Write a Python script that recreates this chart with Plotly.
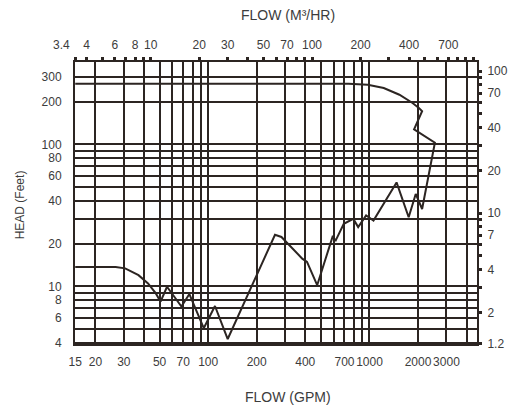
import math
import plotly.graph_objects as go

# ---- data (flow in GPM, head in feet) ----
flow_gpm = [15, 26.7, 30.6, 37.0, 42.4, 47.4, 50.7, 55.6, 68.3, 76.5, 93.9, 110.2, 132.2,
            259.6, 284.6, 383, 410, 474, 590, 618, 693, 794, 851, 953, 1059, 1472, 1750,
            1935, 2120, 2544, 1890, 2120, 2024, 1849, 1533, 1226, 976, 742, 15]
head_ft = [13.7, 13.7, 13.4, 12.0, 10.5, 8.93, 7.81, 9.95, 7.21, 8.84, 5.08, 7.28, 4.26,
           23.1, 22.3, 15.7, 14.9, 10.2, 22.3, 21.1, 27.6, 29.9, 26.2, 31.6, 29.1, 54.0, 30.7,
           44.8, 35.1, 103, 127.6, 171.3, 181, 196, 224, 250, 263, 268, 268]

# ---- axis tick values ----
gpm_grid = [15, 20, 30, 40, 50, 60, 70, 80, 90, 100, 200, 300, 400, 500, 600, 700, 800, 900,
            1000, 2000, 3000, 4000]
gpm_labels = [15, 20, 30, 50, 70, 100, 200, 400, 700, 1000, 2000, 3000]
ft_grid = [4, 5, 6, 7, 8, 9, 10, 20, 30, 40, 50, 60, 70, 80, 90, 100, 200, 300]
ft_labels = [4, 6, 8, 10, 20, 40, 60, 80, 100, 200, 300]
m3h_ticks = [3.4, 4, 5, 6, 7, 8, 9, 10, 20, 30, 40, 50, 60, 70, 80, 90, 100, 200, 300, 400,
             500, 600, 700, 800, 900, 1000]
m3h_labels = [4, 6, 8, 10, 20, 30, 50, 70, 100, 200, 400, 700]
m3h_first_label = 3.4
m_ticks = [1.2, 2, 3, 4, 5, 6, 7, 8, 9, 10, 20, 30, 40, 50, 60, 70, 80, 90, 100]
m_labels = [1.2, 2, 4, 7, 10, 20, 40, 70, 100]

GPM_PER_M3H = 4.403
FT_PER_M = 3.281
X_MIN, X_MAX = 14.95, 4640
Y_MIN, Y_MAX = 3.93, 381

INK = "#2c2522"
TXT = "#3c3c3c"
FONT = "Liberation Sans, Arial, sans-serif"


def texts(vals, labels):
    return [("%g" % v) if v in labels else "" for v in vals]


fig = go.Figure()
fig.add_trace(go.Scatter(x=flow_gpm, y=head_ft, mode="lines",
                         line=dict(color=INK, width=2), xaxis="x", yaxis="y",
                         hoverinfo="skip", showlegend=False))
fig.add_trace(go.Scatter(x=[v / GPM_PER_M3H for v in flow_gpm],
                         y=[h / FT_PER_M for h in head_ft], mode="lines",
                         line=dict(width=0), opacity=0, xaxis="x2", yaxis="y2",
                         hoverinfo="skip", showlegend=False))

tickfont = dict(family=FONT, size=12, color=TXT)
common = dict(type="log", showline=True, linecolor=INK, linewidth=2, zeroline=False,
              tickfont=tickfont, tickmode="array", tickangle=0)

fig.update_layout(
    width=520, height=409,
    margin=dict(l=75, r=26, t=62, b=65),
    paper_bgcolor="white", plot_bgcolor="white",
    xaxis=dict(**common, range=[math.log10(X_MIN), math.log10(X_MAX)],
               tickvals=gpm_grid, ticktext=texts(gpm_grid, gpm_labels),
               showgrid=True, gridcolor=INK, gridwidth=2, ticks="", ticklabelstandoff=6),
    xaxis2=dict(**common, overlaying="x", side="top", anchor="y",
                range=[math.log10(X_MIN / GPM_PER_M3H), math.log10(X_MAX / GPM_PER_M3H)],
                tickvals=m3h_ticks, ticktext=texts(m3h_ticks, m3h_labels),
                showgrid=False, ticks="outside", ticklen=3, tickwidth=3, tickcolor=INK,
                ticklabelstandoff=3),
    yaxis=dict(**common, range=[math.log10(Y_MIN), math.log10(Y_MAX)],
               tickvals=ft_grid, ticktext=texts(ft_grid, ft_labels),
               showgrid=True, gridcolor=INK, gridwidth=2, ticks="", ticklabelstandoff=9),
    yaxis2=dict(**common, overlaying="y", side="right", anchor="x",
                range=[math.log10(Y_MIN / FT_PER_M), math.log10(Y_MAX / FT_PER_M)],
                tickvals=m_ticks, ticktext=texts(m_ticks, m_labels),
                showgrid=False, ticks="outside", ticklen=3, tickwidth=3, tickcolor=INK,
                ticklabelstandoff=3),
    annotations=[
        dict(text="%g" % m3h_first_label, xref="x2", yref="paper",
             x=math.log10(m3h_first_label), y=1.062, xshift=-3,
             showarrow=False, font=tickfont, xanchor="right", yanchor="middle"),
        dict(text="FLOW (M³/HR)", xref="paper", yref="paper", x=0.53, y=1.167,
             showarrow=False, font=dict(family=FONT, size=14, color=TXT),
             xanchor="center", yanchor="middle"),
        dict(text="FLOW (GPM)", xref="paper", yref="paper", x=0.53, y=-0.188,
             showarrow=False, font=dict(family=FONT, size=14, color=TXT),
             xanchor="center", yanchor="middle"),
        dict(text="HEAD (Feet)", xref="paper", yref="paper", x=-0.136, y=0.493,
             showarrow=False, textangle=-90, font=dict(family=FONT, size=12, color=TXT),
             xanchor="center", yanchor="middle"),
    ],
)

fig.write_html("out.html")
